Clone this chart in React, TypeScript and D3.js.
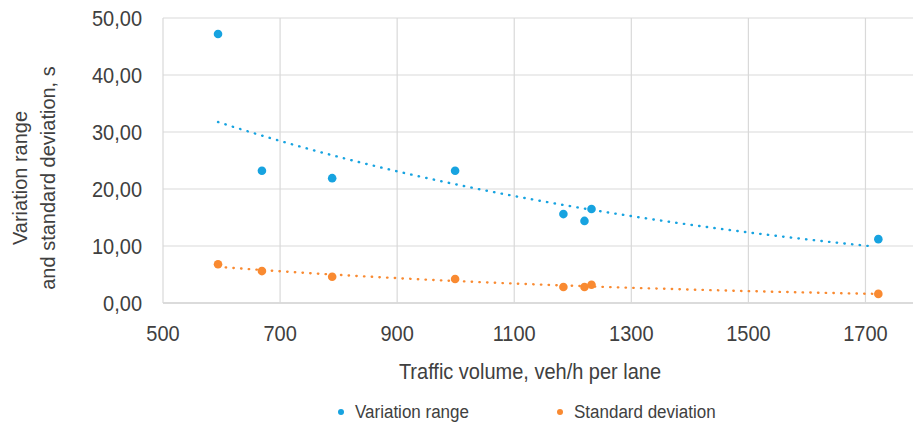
import React, { useEffect, useRef } from "react";
import * as d3 from "d3";

// Traffic volume (veh/h per lane) for each measured site
const volumes = [594, 669, 789, 999, 1184, 1220, 1232, 1722];
// Variation range, s
const variationRange = [47.2, 23.2, 21.9, 23.2, 15.6, 14.4, 16.5, 11.2];
// Standard deviation, s
const standardDeviation = [6.8, 5.6, 4.6, 4.2, 2.8, 2.8, 3.2, 1.6];

const xTicks = [500, 700, 900, 1100, 1300, 1500, 1700];
const yTicks = [0, 10, 20, 30, 40, 50];

const seriesNames = ["Variation range", "Standard deviation"];
const colors = ["#17a3e0", "#f98a31"];

const W = 913;
const H = 423;
const SY = 1.13; // the picture's text is a little stretched vertically

// exponential least-squares fit, as the spreadsheet trendline does
function expFit(xs: number[], ys: number[]) {
  const ly = ys.map(Math.log);
  const mx = d3.mean(xs)!;
  const my = d3.mean(ly)!;
  let sxy = 0;
  let sxx = 0;
  xs.forEach((x, i) => {
    sxy += (x - mx) * (ly[i] - my);
    sxx += (x - mx) * (x - mx);
  });
  const k = sxy / sxx;
  const a = Math.exp(my - k * mx);
  return (x: number) => a * Math.exp(k * x);
}

const App = () => {
  const ref = useRef<SVGSVGElement>(null);

  useEffect(() => {
    document.body.style.margin = "0";
    const svg = d3.select(ref.current);
    svg.selectAll("*").remove();

    const x = d3.scaleLinear().domain([500, 1800]).range([163, 924]);
    const y = d3.scaleLinear().domain([0, 50]).range([303, 18]);
    const font = "Liberation Sans, Arial, sans-serif";

    // gridlines
    svg.append("g")
      .selectAll("line")
      .data(yTicks)
      .join("line")
      .attr("x1", x(500))
      .attr("x2", W)
      .attr("y1", (d) => y(d))
      .attr("y2", (d) => y(d))
      .attr("stroke", (d) => (d === 0 ? "#cfcfcf" : "#d9d9d9"))
      .attr("stroke-width", (d) => (d === 0 ? 1.6 : 1.2));

    svg.append("g")
      .selectAll("line")
      .data(xTicks)
      .join("line")
      .attr("x1", (d) => x(d))
      .attr("x2", (d) => x(d))
      .attr("y1", y(50))
      .attr("y2", y(0))
      .attr("stroke", "#d9d9d9")
      .attr("stroke-width", 1.2);

    // tick labels
    const fmt = (v: number) => v.toFixed(2).replace(".", ",");
    svg.append("g")
      .selectAll("text")
      .data(yTicks)
      .join("text")
      .attr("transform", (d) => `translate(142,${y(d) + 7.5}) scale(1,${SY})`)
      .attr("text-anchor", "end")
      .attr("font-family", font)
      .attr("font-size", 20)
      .attr("fill", "#404040")
      .text(fmt);

    svg.append("g")
      .selectAll("text")
      .data(xTicks)
      .join("text")
      .attr("transform", (d) => `translate(${x(d)},341) scale(1,${SY})`)
      .attr("text-anchor", "middle")
      .attr("font-family", font)
      .attr("font-size", 20)
      .attr("fill", "#404040")
      .text((d) => d);

    // axis titles
    svg.append("text")
      .attr("transform", `translate(530,379) scale(1,${SY})`)
      .attr("text-anchor", "middle")
      .attr("font-family", font)
      .attr("font-size", 20)
      .attr("fill", "#404040")
      .text("Traffic volume, veh/h per lane");

    const yTitle = svg.append("text")
      .attr("transform", `translate(0,178) rotate(-90)`)
      .attr("text-anchor", "middle")
      .attr("font-family", font)
      .attr("font-size", 20)
      .attr("fill", "#404040");
    yTitle.append("tspan").attr("x", 0).attr("y", 27).text("Variation range");
    yTitle.append("tspan").attr("x", 0).attr("y", 55).text("and standard deviation, s");

    // trendlines and points
    const series = [variationRange, standardDeviation];
    const [xmin, xmax] = d3.extent(volumes) as [number, number];
    series.forEach((vals, si) => {
      const f = expFit(volumes, vals);
      const xs = d3.range(xmin, xmax + 1, 10);
      svg.append("path")
        .datum(xs)
        .attr("fill", "none")
        .attr("stroke", colors[si])
        .attr("stroke-width", 2.4)
        .attr("stroke-linecap", "round")
        .attr("stroke-dasharray", "0.4 7.3")
        .attr("d", d3.line<number>().x((d) => x(d)).y((d) => y(f(d)))(xs));

      svg.append("g")
        .selectAll("circle")
        .data(vals)
        .join("circle")
        .attr("cx", (_, i) => x(volumes[i]))
        .attr("cy", (d) => y(d))
        .attr("r", 4.3)
        .attr("fill", colors[si]);
    });

    // legend
    const legendX = [341, 560];
    seriesNames.forEach((name, i) => {
      svg.append("circle")
        .attr("cx", legendX[i])
        .attr("cy", 412)
        .attr("r", 3)
        .attr("fill", colors[i]);
      svg.append("text")
        .attr("transform", `translate(${legendX[i] + 14},418) scale(1,${SY})`)
        .attr("font-family", font)
        .attr("font-size", 17)
        .attr("fill", "#404040")
        .text(name);
    });
  }, []);

  return <svg ref={ref} width={W} height={H} style={{ display: "block", background: "#fff" }} />;
};

export default App;
